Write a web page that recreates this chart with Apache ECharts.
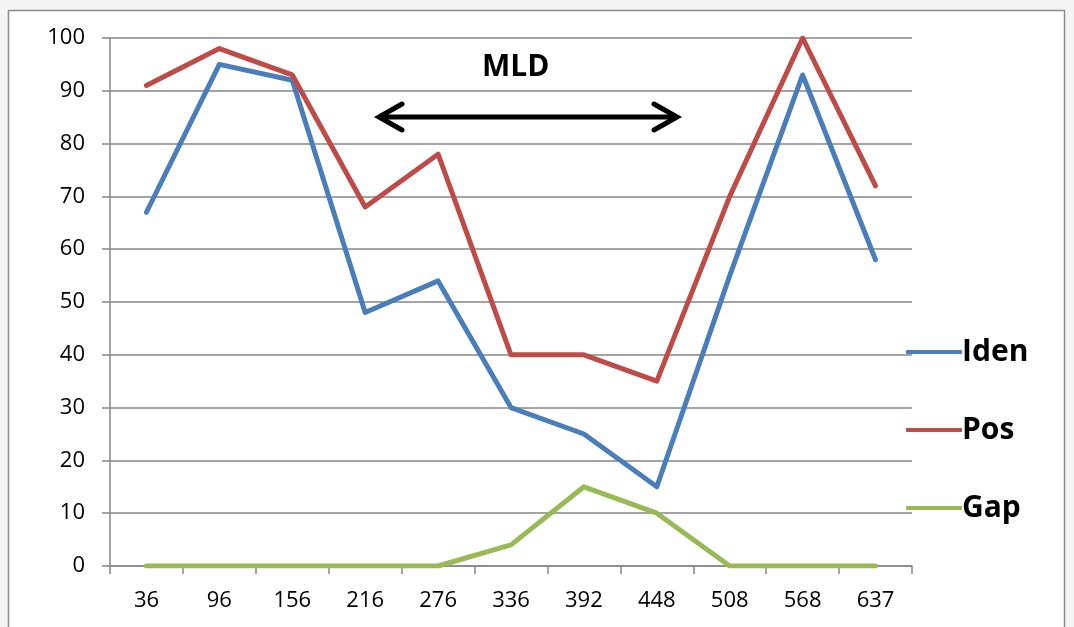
<!DOCTYPE html>
<html><head><meta charset="utf-8">
<script src="https://cdn.jsdelivr.net/npm/echarts@6/dist/echarts.min.js"></script>
<style>html,body{margin:0;padding:0;background:#f4f4f4;}#c{width:1074px;height:627px;}</style>
</head><body><div id="c"></div>
<script>
const categories = ['36','96','156','216','276','336','392','448','508','568','637'];
const iden = [67, 95, 92, 48, 54, 30, 25, 15, 55, 93, 58];
const pos = [91, 98, 93, 68, 78, 40, 40, 35, 70, 100, 72];
const gap = [0, 0, 0, 0, 0, 4, 15, 10, 0, 0, 0];
const yTicks = [0, 10, 20, 30, 40, 50, 60, 70, 80, 90, 100];

const FONT = '"Open Sans", "Noto Sans", sans-serif';
const chart = echarts.init(document.getElementById('c'), null, {renderer: 'canvas'});
const mk = (name, data, color) => ({
  name, type: 'line', data, symbol: 'none', smooth: false,
  lineStyle: {color, width: 5, cap: 'round', join: 'round'},
  itemStyle: {color}, z: 5
});
chart.setOption({
  animation: false,
  backgroundColor: 'transparent',
  graphic: [
    {type: 'rect', shape: {x: 8.5, y: 10.5, width: 1056, height: 660}, style: {fill: '#fff', stroke: '#8c8c8c', lineWidth: 1.5}, z: -10},
    {type: 'text', left: 482, top: 52, style: {text: 'MLD', font: 'bold 30px ' + FONT, fill: '#000'}, z: 10},
    {type: 'line', shape: {x1: 381, y1: 117, x2: 675, y2: 117}, style: {stroke: '#000', lineWidth: 5}, z: 10},
    {type: 'polyline', shape: {points: [[402, 104], [379, 117], [402, 130]]}, style: {stroke: '#000', lineWidth: 5, fill: null, lineCap: 'round', lineJoin: 'miter'}, z: 10},
    {type: 'polyline', shape: {points: [[654, 104], [677, 117], [654, 130]]}, style: {stroke: '#000', lineWidth: 5, fill: null, lineCap: 'round', lineJoin: 'miter'}, z: 10}
  ],
  grid: {left: 110, right: 162, top: 38, bottom: 61},
  legend: {
    orient: 'vertical', left: 901, top: 332, itemGap: 48,
    itemWidth: 56, itemHeight: 4,
    icon: 'roundRect',
    textStyle: {fontFamily: FONT, fontWeight: 'bold', fontSize: 30, color: '#000', padding: [0, 0, 0, -5]},
    data: ['Iden', 'Pos', 'Gap']
  },
  xAxis: {
    type: 'category', data: categories, boundaryGap: true,
    axisLine: {lineStyle: {color: '#868686', width: 1.5}},
    axisTick: {show: true, length: 8, lineStyle: {color: '#868686', width: 1.5}},
    axisLabel: {fontFamily: FONT, fontSize: 22, color: '#000', margin: 24},
    splitLine: {show: false}
  },
  yAxis: {
    type: 'value', min: yTicks[0], max: yTicks[yTicks.length - 1], interval: 10,
    axisLine: {show: true, lineStyle: {color: '#868686', width: 1.5}},
    axisTick: {show: true, length: 8, inside: false, lineStyle: {color: '#868686', width: 1.5}},
    axisLabel: {fontFamily: FONT, fontSize: 22, color: '#000', margin: 25},
    splitLine: {show: true, lineStyle: {color: '#868686', width: 1.5}}
  },
  series: [mk('Iden', iden, '#4a7ebb'), mk('Pos', pos, '#be4b48'), mk('Gap', gap, '#98b954')]
});
</script></body></html>
